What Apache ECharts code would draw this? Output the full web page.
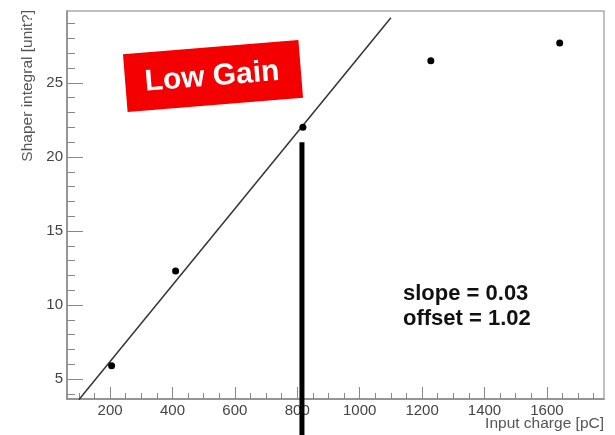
<!DOCTYPE html>
<html>
<head>
<meta charset="utf-8">
<script src="https://cdn.jsdelivr.net/npm/echarts@6/dist/echarts.min.js"></script>
<style>
  html, body { margin: 0; padding: 0; background: #fff; }
  #chart { width: 615px; height: 435px; }
</style>
</head>
<body>
<div id="chart"></div>
<script>
// measured points
const charge = [205, 410, 818, 1228, 1641]
const shaper = [5.9, 12.3, 22.0, 26.5, 27.7]
// fitted line end points
const fitX = [100, 1100]
const fitY = [3.6, 29.4]
// axis labels
const xLabels = [200, 400, 600, 800, 1000, 1200, 1400, 1600]
const xMinor = []
for (let v = 100; v <= 1750; v += 50) xMinor.push(v)
const yLabels = [5, 10, 15, 20, 25]
const yMinor = [4, 5, 6, 7, 8, 9, 10, 11, 12, 13, 14, 15, 16, 17, 18, 19, 20, 21, 22, 23, 24, 25, 26, 27, 28, 29]
// annotation bar
const barX = 815
const barTop = 21

const font = 'Liberation Sans, Arial, Helvetica, sans-serif'
const grey = '#555'
const chart = echarts.init(document.getElementById('chart'))

const xBase = { type: 'value', min: 62, max: 1783, position: 'bottom', splitLine: { show: false } }
const yBase = { type: 'value', min: 3.65, max: 29.86, position: 'left', splitLine: { show: false } }

chart.setOption({
  animation: false,
  grid: {
    left: 67, top: 11, right: 11, bottom: 36,
    containLabel: false, outerBoundsMode: 'none',
    show: true, borderColor: '#aaa', borderWidth: 1.5
  },
  xAxis: [
    {
      ...xBase,
      axisLine: { lineStyle: { color: '#888', width: 1.5 } },
      axisTick: { inside: true, length: 12, customValues: xLabels, lineStyle: { color: '#888' } },
      axisLabel: { customValues: xLabels, formatter: v => String(v), color: '#444', fontFamily: font, fontSize: 15, margin: 4 }
    },
    {
      ...xBase,
      axisLine: { show: false },
      axisTick: { inside: true, length: 6, customValues: xMinor, lineStyle: { color: '#888' } },
      axisLabel: { show: false }
    }
  ],
  yAxis: [
    {
      ...yBase,
      axisLine: { lineStyle: { color: '#888', width: 1.5 } },
      axisTick: { inside: true, length: 16, customValues: yLabels, lineStyle: { color: '#888' } },
      axisLabel: { customValues: yLabels, color: '#444', fontFamily: font, fontSize: 15, margin: 4 }
    },
    {
      ...yBase,
      axisLine: { show: false },
      axisTick: { inside: true, length: 8, customValues: yMinor, lineStyle: { color: '#888' } },
      axisLabel: { show: false }
    }
  ],
  series: [
    {
      type: 'line',
      data: fitX.map((x, i) => [x, fitY[i]]),
      showSymbol: false,
      lineStyle: { color: '#333', width: 1.5 },
      z: 2
    },
    {
      type: 'scatter',
      data: charge.map((x, i) => [x, shaper[i]]),
      symbolSize: 7,
      itemStyle: { color: '#000', opacity: 1 },
      z: 3
    }
  ]
})

const p = chart.convertToPixel({ gridIndex: 0 }, [barX, barTop])
chart.setOption({
  graphic: [
    {
      type: 'text', right: 11, top: 416,
      style: { text: 'Input charge [pC]', fill: grey, font: '15.5px ' + font }
    },
    {
      type: 'text', x: 28, y: 10, rotation: Math.PI / 2,
      style: { text: 'Shaper integral [unit?]', fill: grey, font: '15.5px ' + font, align: 'right', verticalAlign: 'middle' }
    },
    {
      type: 'rect',
      shape: { x: p[0] - 2.5, y: p[1], width: 5, height: 435 - p[1] },
      style: { fill: '#000' },
      z: 10
    },
    {
      type: 'group',
      x: 213, y: 76, rotation: 4.6 * Math.PI / 180,
      children: [
        { type: 'rect', shape: { x: -88, y: -29, width: 176, height: 58 }, style: { fill: '#f50000' } },
        { type: 'text', x: -1, y: 1, style: { text: 'Low Gain', fill: '#fff', font: 'bold 30px ' + font, align: 'center', verticalAlign: 'middle' } }
      ],
      z: 10
    },
    {
      type: 'text', left: 403, top: 281,
      style: { text: 'slope = 0.03\noffset = 1.02', fill: '#111', font: 'bold 22px ' + font, lineHeight: 25 },
      z: 10
    }
  ]
})
</script>
</body>
</html>
